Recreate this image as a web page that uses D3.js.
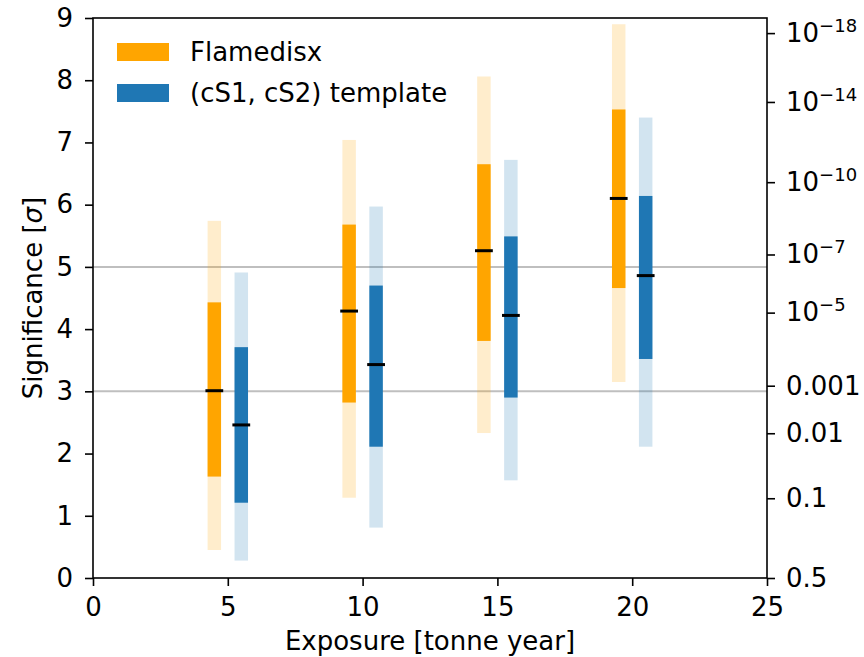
<!DOCTYPE html>
<html>
<head>
<meta charset="utf-8">
<script src="https://cdn.jsdelivr.net/npm/d3@7"></script>
<style>
  body { margin: 0; background: #fff; }
  svg { font-family: "DejaVu Sans", sans-serif; }
</style>
</head>
<body>
<svg id="chart" width="864" height="657"></svg>
<script>
// Discovery significance vs exposure, median with 1σ / 2σ bands
const exposures = [5, 10, 15, 20];

const flameMedian = [3.01, 4.29, 5.26, 6.10];
const flame1Lo = [1.63, 2.82, 3.81, 4.66];
const flame1Hi = [4.43, 5.68, 6.65, 7.53];
const flame2Lo = [0.45, 1.29, 2.33, 3.15];
const flame2Hi = [5.74, 7.04, 8.06, 8.90];

const tmplMedian = [2.46, 3.43, 4.22, 4.86];
const tmpl1Lo = [1.21, 2.11, 2.90, 3.52];
const tmpl1Hi = [3.71, 4.70, 5.49, 6.14];
const tmpl2Lo = [0.28, 0.81, 1.57, 2.11];
const tmpl2Hi = [4.91, 5.97, 6.72, 7.40];

const xTicks = [0, 5, 10, 15, 20, 25];
const yTicks = [0, 1, 2, 3, 4, 5, 6, 7, 8, 9];
const pTicks = [0.5, 0.1, 0.01, 0.001, 1e-5, 1e-7, 1e-10, 1e-14, 1e-18];
const pLabels = [["0.5"], ["0.1"], ["0.01"], ["0.001"], ["10", "\u22125"], ["10", "\u22127"],
                 ["10", "\u221210"], ["10", "\u221214"], ["10", "\u221218"]];
const refLines = [3, 5];
const seriesNames = ["Flamedisx", "(cS1, cS2) template"];

// Inverse survival function of the standard normal (Acklam's approximation)
function normIsf(q) {
  const a = [-3.969683028665376e+01, 2.209460984245205e+02, -2.759285104469687e+02,
             1.383577518672690e+02, -3.066479806614716e+01, 2.506628277459239e+00];
  const b = [-5.447609879822406e+01, 1.615858368580409e+02, -1.556989798598866e+02,
             6.680131188771972e+01, -1.328068155288572e+01];
  const c = [-7.784894002430293e-03, -3.223964580411365e-01, -2.400758277161838e+00,
             -2.549732539343734e+00, 4.374664141464968e+00, 2.938163982698783e+00];
  const d = [7.784695709041462e-03, 3.224671290700398e-01, 2.445134137142996e+00,
             3.754408661907416e+00];
  const pl = 0.02425;
  let x;
  if (q < pl) {
    const r = Math.sqrt(-2 * Math.log(q));
    x = (((((c[0]*r + c[1])*r + c[2])*r + c[3])*r + c[4])*r + c[5]) /
        ((((d[0]*r + d[1])*r + d[2])*r + d[3])*r + 1);
  } else {
    const r = q - 0.5, s = r * r;
    x = (((((a[0]*s + a[1])*s + a[2])*s + a[3])*s + a[4])*s + a[5]) * r /
        (((((b[0]*s + b[1])*s + b[2])*s + b[3])*s + b[4])*s + 1);
  }
  return -x;
}

const margin = { left: 93, right: 97, top: 18, bottom: 79 };
const W = 864, H = 657;
const svg = d3.select("#chart");

const x = d3.scaleLinear().domain([0, 25]).range([margin.left, W - margin.right]);
const y = d3.scaleLinear().domain([0, 9]).range([H - margin.bottom, margin.top]);

const orange = "#ffa500", blue = "#1f77b4";
const offset = 0.5, barW = 0.5, medW = 0.66;

const plot = svg.append("g");

// Reference significance lines
plot.selectAll("line.ref").data(refLines).join("line")
  .attr("x1", x(0)).attr("x2", x(25))
  .attr("y1", d => y(d)).attr("y2", d => y(d))
  .attr("stroke", "#000").attr("stroke-opacity", 0.25).attr("stroke-width", 2);

function drawSeries(color, dx, lo2, hi2, lo1, hi1, med) {
  const g = plot.append("g");
  const bw = x(barW) - x(0);
  const mw = x(medW) - x(0);
  g.selectAll("rect.band2").data(exposures).join("rect")
    .attr("x", (d) => x(d + dx) - bw / 2)
    .attr("width", bw)
    .attr("y", (d, i) => y(hi2[i]))
    .attr("height", (d, i) => y(lo2[i]) - y(hi2[i]))
    .attr("fill", color).attr("fill-opacity", 0.2);
  g.selectAll("rect.band1").data(exposures).join("rect")
    .attr("x", (d) => x(d + dx) - bw / 2)
    .attr("width", bw)
    .attr("y", (d, i) => y(hi1[i]))
    .attr("height", (d, i) => y(lo1[i]) - y(hi1[i]))
    .attr("fill", color);
  g.selectAll("line.med").data(exposures).join("line")
    .attr("x1", d => x(d + dx) - mw / 2)
    .attr("x2", d => x(d + dx) + mw / 2)
    .attr("y1", (d, i) => y(med[i])).attr("y2", (d, i) => y(med[i]))
    .attr("stroke", "#000").attr("stroke-width", 3);
}

drawSeries(orange, -offset, flame2Lo, flame2Hi, flame1Lo, flame1Hi, flameMedian);
drawSeries(blue, offset, tmpl2Lo, tmpl2Hi, tmpl1Lo, tmpl1Hi, tmplMedian);

// Frame
svg.append("rect")
  .attr("x", x(0)).attr("y", y(9))
  .attr("width", x(25) - x(0)).attr("height", y(0) - y(9))
  .attr("fill", "none").attr("stroke", "#000").attr("stroke-width", 1.6);

// Axes
const fs = 26;
const xAxis = svg.append("g").attr("transform", `translate(0,${y(0)})`)
  .call(d3.axisBottom(x).tickValues(xTicks).tickSize(8).tickPadding(12).tickFormat(d3.format("d")));
const yAxis = svg.append("g").attr("transform", `translate(${x(0)},0)`)
  .call(d3.axisLeft(y).tickValues(yTicks).tickSize(8).tickPadding(12).tickFormat(d3.format("d")));
const pAxis = svg.append("g").attr("transform", `translate(${x(25)},0)`)
  .call(d3.axisRight(d3.scaleLinear().domain([0, 9]).range(y.range()))
    .tickValues(pTicks.map(normIsf)).tickSize(8).tickPadding(11).tickFormat(""));

[xAxis, yAxis, pAxis].forEach(a => {
  a.select(".domain").remove();
  a.selectAll(".tick line").attr("stroke", "#000").attr("stroke-width", 1.6);
  a.selectAll(".tick text").attr("font-size", fs).attr("fill", "#000")
    .attr("font-family", "DejaVu Sans");
});

// p-value labels with superscripts
pAxis.selectAll(".tick text").each(function(d, i) {
  const t = d3.select(this).text(null);
  const lab = pLabels[i];
  t.append("tspan").text(lab[0]);
  if (lab.length > 1) {
    t.append("tspan").attr("dy", -10).attr("font-size", 18).text(lab[1]);
  }
});

// Axis titles
svg.append("text")
  .attr("x", (x(0) + x(25)) / 2).attr("y", 650)
  .attr("text-anchor", "middle").attr("font-size", fs).text("Exposure [tonne year]");
const yt = svg.append("text")
  .attr("transform", `translate(42,${(y(0) + y(9)) / 2}) rotate(-90)`)
  .attr("text-anchor", "middle").attr("font-size", fs);
yt.append("tspan").text("Significance [");
yt.append("tspan").attr("font-style", "italic").text("\u03c3");
yt.append("tspan").text("]");

// Legend
const legend = svg.append("g");
[orange, blue].forEach((c, i) => {
  legend.append("rect").attr("x", 117).attr("y", 43 + i * 41).attr("width", 52).attr("height", 18)
    .attr("fill", c);
  legend.append("text").attr("x", 190).attr("y", 52 + i * 41).attr("dy", "0.35em")
    .attr("font-size", fs).text(seriesNames[i]);
});
</script>
</body>
</html>
